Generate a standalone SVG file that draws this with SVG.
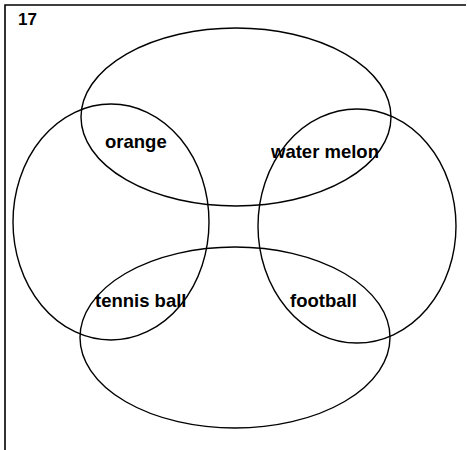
<svg xmlns="http://www.w3.org/2000/svg" width="467" height="450" viewBox="0 0 467 450">
<style>
.set{fill:none;stroke:#000;stroke-width:1.4}
.lbl{font-family:"Liberation Sans",Arial,sans-serif;font-weight:bold;font-size:18.5px;fill:#000}
.frame{stroke:#000;stroke-width:1.6;fill:none}
</style>
<rect width="467" height="450" fill="#fff"/>
<g id="frame">
<path class="frame" d="M5,450 V5 H466"/>
<text x="18" y="25" font-family="Liberation Sans, Arial, sans-serif" font-weight="bold" font-size="17">17</text>
</g>
<g id="connectors"></g>
<g id="orange">
<ellipse class="set" cx="236" cy="117" rx="155" ry="89"/>
</g>
<g id="water-melon">
<ellipse class="set" cx="357" cy="226" rx="99" ry="117"/>
</g>
<g id="tennis-ball">
<ellipse class="set" cx="111" cy="222" rx="98" ry="118"/>
</g>
<g id="football">
<ellipse class="set" cx="235" cy="337.5" rx="155" ry="90.5"/>
</g>
<g id="labels">
<text class="lbl" x="105" y="148">orange</text>
<text class="lbl" x="271" y="158">water melon</text>
<text class="lbl" x="95" y="307">tennis ball</text>
<text class="lbl" x="290" y="307">football</text>
</g>
</svg>
